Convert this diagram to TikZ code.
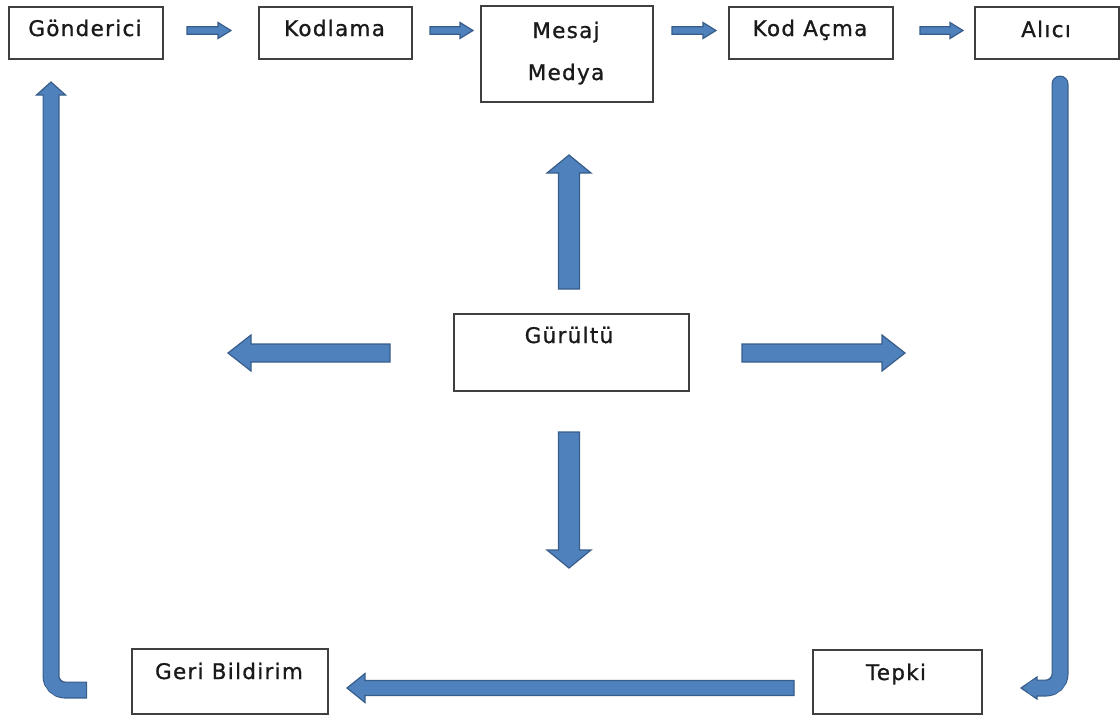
\documentclass[tikz,border=0pt]{standalone}
\usepackage{fontspec}
\setmainfont{DejaVu Sans}[LetterSpace=6,FakeBold=1]
\usetikzlibrary{calc}
\definecolor{afill}{HTML}{4F81BD}
\definecolor{aline}{HTML}{385D8A}
\definecolor{boxline}{HTML}{404040}
\definecolor{txt}{HTML}{1A1A1A}
\tikzset{
  box/.style={draw=boxline, line width=1.6pt, fill=white, inner sep=0pt, anchor=north west},
  lbl/.style={text=txt, font=\fontsize{21.5}{25}\selectfont, anchor=base, inner sep=0pt},
  barrowstyle/.style={fill=afill, draw=aline, line width=1.2pt, line join=miter},
  shaftout/.style={draw=aline, line width=17pt, rounded corners=14pt},
  shaftin/.style={draw=afill, line width=14.6pt, rounded corners=13pt},
}
\newcommand\blockarrow[5]{%
  \coordinate (ba-h) at ($(#2)!#5!(#1)$);
  \filldraw[barrowstyle] ($(#1)!#3!90:(#2)$) -- ($(ba-h)!#3!90:(#2)$) -- ($(ba-h)!#4!90:(#2)$) -- (#2)
    -- ($(ba-h)!#4!-90:(#2)$) -- ($(ba-h)!#3!-90:(#2)$) -- ($(#1)!#3!-90:(#2)$) -- cycle;
}
\begin{document}
\begin{tikzpicture}[x=1pt,y=-1pt]
\useasboundingbox (0,0) rectangle (1120,718);
% boxes
\node[box, minimum width=154pt, minimum height=52pt] (gon) at (8,6) {};
\node[box, minimum width=153pt, minimum height=52pt] (kod) at (258,6) {};
\node[box, minimum width=172pt, minimum height=96pt] (mes) at (480,5) {};
\node[box, minimum width=164pt, minimum height=52pt] (kac) at (728,6) {};
\node[box, minimum width=144pt, minimum height=52pt] (ali) at (974,6) {};
\node[box, minimum width=235pt, minimum height=77pt] (gur) at (453,313) {};
\node[box, minimum width=196pt, minimum height=65pt] (ger) at (131,648) {};
\node[box, minimum width=169pt, minimum height=64pt] (tep) at (812,649) {};
% labels
\node[lbl] (gonT) at (85,36) {Gönderici};
\node[lbl] (kodT) at (334.5,36) {Kodlama};
\node[lbl] (mesT1) at (566,38) {Mesaj};
\node[lbl] (mesT2) at (566,80) {Medya};
\node[lbl] (kacT) at (810,36) {Kod Açma};
\node[lbl] (aliT) at (1046,37) {Alıcı};
\node[lbl] (gurT) at (569,343) {Gürültü};
\node[lbl] (gerT) at (229,679) {Geri Bildirim};
\node[lbl] (tepT) at (896,680) {Tepki};
% top arrow coordinates
\coordinate (t1a) at (187,30.5); \coordinate (t1b) at (231,30.5);
\coordinate (t2a) at (430,30.5); \coordinate (t2b) at (473,30.5);
\coordinate (t3a) at (672,30.5); \coordinate (t3b) at (716,30.5);
\coordinate (t4a) at (920,30.5); \coordinate (t4b) at (963,30.5);
\blockarrow{t1a}{t1b}{3.8pt}{8pt}{13pt}
\blockarrow{t2a}{t2b}{3.8pt}{8pt}{13pt}
\blockarrow{t3a}{t3b}{3.8pt}{8pt}{13pt}
\blockarrow{t4a}{t4b}{3.8pt}{8pt}{13pt}
% noise arrows
\coordinate (upA) at (569,289); \coordinate (upB) at (569,155);
\coordinate (dnA) at (569,432); \coordinate (dnB) at (569,568);
\coordinate (lfA) at (390,353); \coordinate (lfB) at (228,353);
\coordinate (rtA) at (742,353); \coordinate (rtB) at (905,353);
\blockarrow{upA}{upB}{10.5pt}{22pt}{18pt}
\blockarrow{dnA}{dnB}{10.5pt}{22pt}{18pt}
\blockarrow{lfA}{lfB}{9pt}{18pt}{23pt}
\blockarrow{rtA}{rtB}{9pt}{18pt}{23pt}
% bottom arrow Tepki -> Geri Bildirim
\coordinate (btA) at (794,688); \coordinate (btB) at (347,688);
\blockarrow{btA}{btB}{7.5pt}{14.5pt}{18pt}
% left loop (Geri Bildirim -> Gonderici)
\coordinate (L1) at (87,690); \coordinate (L1i) at (85.8,690);
\coordinate (L2) at (51,690); \coordinate (L3) at (51,95); \coordinate (L3i) at (51,92);
\coordinate (Ltip) at (51,82);
\draw[shaftout] (L1) -- (L2) -- (L3);
\filldraw[barrowstyle] (36.5,95) -- (Ltip) -- (65.5,95) -- cycle;
\draw[shaftin] (L1i) -- (L2) -- (L3i);
% right loop (Alici -> Tepki)
\coordinate (R1) at (1060,84); \coordinate (R2) at (1060,688);
\coordinate (R3) at (1037,688); \coordinate (R3i) at (1034,688);
\coordinate (Rtip) at (1021,688);
\draw[shaftout, line cap=round] (R1) -- (R2) -- (R3);
\filldraw[barrowstyle] (1037,677) -- (Rtip) -- (1037,699) -- cycle;
\draw[shaftin, line cap=round] (R1) -- (R2) -- (R3i);
\end{tikzpicture}
\end{document}
